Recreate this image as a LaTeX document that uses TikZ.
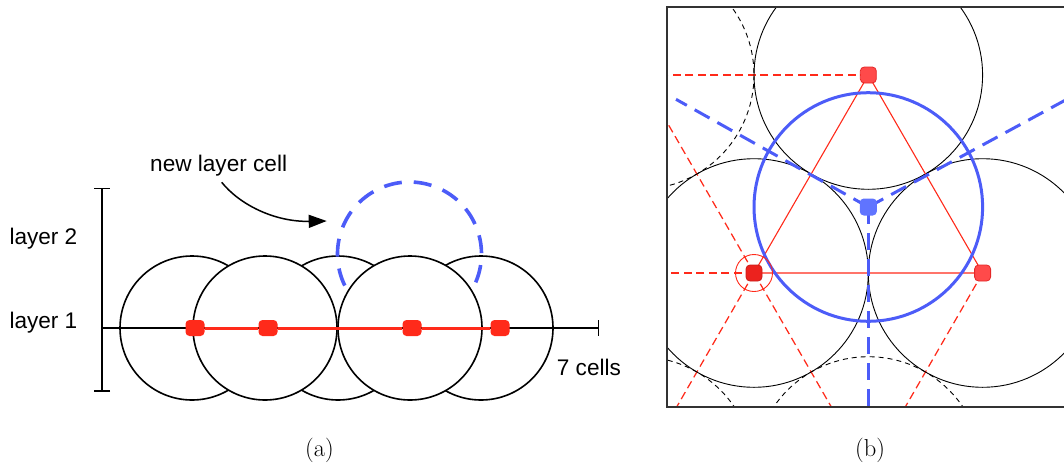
\documentclass[tikz,border=0pt]{standalone}
\usepackage{fontspec}
\newfontfamily\arialf{Liberation Sans}
\usetikzlibrary{arrows.meta}
\definecolor{redL}{RGB}{255,42,26}
\definecolor{redF}{RGB}{255,74,74}
\definecolor{redD}{RGB}{228,40,40}
\definecolor{redB}{RGB}{236,34,30}
\definecolor{blueL}{RGB}{76,92,248}
\definecolor{blueD}{RGB}{96,116,255}
\definecolor{frameC}{RGB}{50,50,50}
\begin{document}
\begin{tikzpicture}[x=1pt,y=-1pt,
  lab/.style={font=\arialf\fontsize{22.6pt}{26pt}\selectfont, inner sep=0pt, anchor=base west},
  subcap/.style={font=\fontsize{24.5pt}{28pt}\selectfont, inner sep=0pt, anchor=base},
  cellL/.style={circle, draw=black, line width=1.6pt, fill=white, minimum size=144pt, inner sep=0pt},
  dotL/.style={rectangle, rounded corners=4pt, fill=redL, minimum width=19pt, minimum height=16pt, inner sep=0pt},
  newcell/.style={draw=blueL, line width=3.6pt, dash pattern=on 18pt off 12pt},
  axis/.style={draw=black, line width=1.6pt},
  cellR/.style={draw=black, line width=0.9pt},
  ghost/.style={draw=black, line width=0.9pt, dash pattern=on 5pt off 4pt},
  link/.style={draw=redL, line width=1.25pt, dash pattern=on 8pt off 4.5pt},
  tri/.style={draw=redL, line width=1.1pt},
  vor/.style={draw=blueL, line width=3pt, dash pattern=on 17pt off 9pt},
  bcirc/.style={draw=blueL, line width=3pt},
  dotR/.style={rectangle, rounded corners=4pt, fill=redF, draw=redD, line width=0.8pt, minimum size=16pt, inner sep=0pt},
  dotRs/.style={dotR, fill=redB, draw=redB!85!black},
  dotB/.style={rectangle, rounded corners=4pt, fill=blueD, minimum size=17pt, inner sep=0pt},
  ring/.style={draw=redL, line width=0.9pt},
  framebox/.style={draw=frameC, line width=1.8pt}
]
\useasboundingbox (0,0) rectangle (1064,463);

% ---------- panel (a) ----------
\node[cellL] (c1) at (192,328) {};
\node[cellL] (c3) at (338,328) {};
\node[cellL] (c5) at (481,328) {};
\coordinate (nc) at (409.5,254);
\draw[newcell] (nc) ++(154:72) arc[start angle=154, end angle=390, radius=72];
\node[cellL] (c2) at (265,328) {};
\node[cellL] (c4) at (410,328) {};

\coordinate (vt) at (102,187.5);
\coordinate (vb) at (102,391.7);
\draw[axis, {Bar[width=16pt]}-{Bar[width=16pt]}] (vt) -- (vb);
\coordinate (hl) at (102,328);
\coordinate (hr) at (599,328);
\draw[axis, line width=1.4pt, -{Bar[width=16pt]}] (hl) -- (hr);

\node[dotL] (d1) at (195,328) {};
\node[dotL] (d2) at (268,328) {};
\node[dotL] (d3) at (412,328) {};
\node[dotL] (d4) at (500,328) {};
\draw[redL, line width=3pt] (d1) -- (d2) -- (d3) -- (d4);

\node[lab] (tnew) at (150,171.7) {new layer cell};
\node[lab] (tl2) at (9.3,244.3) {layer 2};
\node[lab] (tl1) at (9.3,328.3) {layer 1};
\node[lab] (t7) at (556.7,375) {7 cells};
\coordinate (as) at (221.7,182.3);
\coordinate (ae) at (326.7,221);
\draw[line width=1.5pt, -{Triangle[length=18pt,width=13pt]}] (as) .. controls (240,205) and (275,222) .. (ae);

% ---------- panel (b) ----------
\coordinate (A) at (868.3,75);
\coordinate (B) at (754,273);
\coordinate (C) at (982.6,273);
\coordinate (L1) at (639.7,75);
\coordinate (L2) at (525.4,273);
\coordinate (L3) at (639.7,471);
\coordinate (L4) at (868.3,471);
\coordinate (G) at (868.3,207);
\coordinate (E1) at (676,99.3);
\coordinate (E2) at (1072,96.5);
\coordinate (E3) at (868.3,420);
\begin{scope}
  \clip (667.3,7.3) rectangle (1064,406.7);
  \draw[ghost] (L1) circle[radius=114.3];
  \draw[ghost] (L3) circle[radius=114.3];
  \draw[ghost] (L4) circle[radius=114.3];
  \draw[link] (A) -- (L1);
  \draw[link] (B) -- (L1);
  \draw[link] (B) -- (L2);
  \draw[link] (B) -- (L3);
  \draw[link] (B) -- (L4);
  \draw[link] (C) -- (L4);
  \draw[cellR] (A) circle[radius=114.3];
  \draw[cellR] (B) circle[radius=114.3];
  \draw[cellR] (C) circle[radius=114.3];
  \draw[tri] (A) -- (B) -- (C) -- cycle;
  \draw[vor] (G) -- (E1);
  \draw[vor] (G) -- (E2);
  \draw[vor] (G) -- (E3);
  \draw[bcirc] (G) circle[radius=114.3];
\end{scope}
\draw[framebox] (667.3,7.3) rectangle (1072,406.7);
\draw[ring] (B) circle[radius=18.5];
\node[dotR] (dA) at (A) {};
\node[dotRs] (dB) at (B) {};
\node[dotR] (dC) at (C) {};
\node[dotB] (dG) at (G) {};

\node[subcap] (capa) at (319.5,456) {(a)};
\node[subcap] (capb) at (870,456) {(b)};
\end{tikzpicture}
\end{document}
